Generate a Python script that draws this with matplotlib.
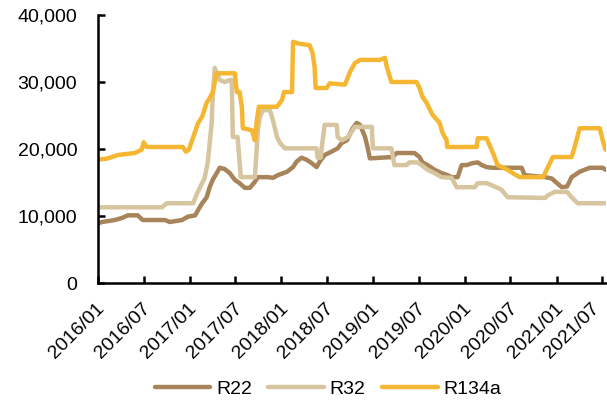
import matplotlib
matplotlib.use("Agg")
import matplotlib.pyplot as plt
import matplotlib.dates as mdates
import matplotlib.transforms as mtransforms
from matplotlib.ticker import FuncFormatter, MultipleLocator
import pandas as pd

plt.rcParams["font.family"] = ["Liberation Sans", "DejaVu Sans"]

# Weekly refrigerant prices (CNY/t), recorded at the dates where the trend changes
r22_dates = [
    "2016-01-01", "2016-01-17", "2016-03-08", "2016-04-05", "2016-04-29", "2016-06-07",
    "2016-06-27", "2016-09-24", "2016-10-13", "2016-12-01", "2016-12-24", "2017-01-22",
    "2017-02-03", "2017-02-19", "2017-03-09", "2017-03-21", "2017-04-02", "2017-04-18",
    "2017-04-30", "2017-05-20", "2017-06-09", "2017-06-29", "2017-07-18", "2017-08-08",
    "2017-08-28", "2017-09-17", "2017-09-29", "2017-11-08", "2017-11-28", "2017-12-18",
    "2018-01-23", "2018-02-16", "2018-03-02", "2018-03-22", "2018-04-11", "2018-05-01",
    "2018-05-21", "2018-06-02", "2018-06-22", "2018-07-19", "2018-08-13", "2018-08-29",
    "2018-09-19", "2018-10-12", "2018-10-28", "2018-11-10", "2018-11-30", "2018-12-11",
    "2018-12-19", "2019-03-19", "2019-04-05", "2019-06-15", "2019-07-05", "2019-07-17",
    "2019-08-06", "2019-09-03", "2019-10-01", "2019-10-25", "2019-11-10", "2019-12-04",
    "2019-12-20", "2020-01-09", "2020-02-02", "2020-02-22", "2020-03-09", "2020-03-28",
    "2020-04-21", "2020-08-15", "2020-08-27", "2020-11-16", "2020-12-13", "2021-01-03",
    "2021-01-22", "2021-02-12", "2021-03-02", "2021-04-03", "2021-05-13", "2021-07-04",
    "2021-07-15",
]
r22_values = [
    8900, 9100, 9400, 9700, 10100, 10100,
    9400, 9400, 9100, 9400, 9900, 10100,
    10900, 11900, 12800, 14300, 15400, 16400,
    17200, 17000, 16400, 15400, 14900, 14200,
    14200, 15100, 15800, 15800, 15700, 16100,
    16600, 17300, 18100, 18700, 18400, 17900,
    17300, 18100, 19100, 19600, 20100, 20900,
    21300, 23100, 23900, 23600, 21800, 20100,
    18600, 18800, 19400, 19400, 18800, 18000,
    17600, 16900, 16400, 16100, 15800, 15800,
    17600, 17600, 17900, 18000, 17600, 17300,
    17200, 17200, 16100, 15800, 15600, 14900,
    14300, 14400, 15800, 16600, 17200, 17200,
    16900,
]

r32_dates = [
    "2016-01-01", "2016-09-12", "2016-10-01", "2017-01-14", "2017-01-30", "2017-02-11",
    "2017-03-01", "2017-03-13", "2017-03-21", "2017-03-29", "2017-04-02", "2017-04-10",
    "2017-04-30", "2017-05-20", "2017-06-09", "2017-06-17", "2017-06-21", "2017-07-10",
    "2017-07-23", "2017-09-17", "2017-09-29", "2017-10-07", "2017-10-19", "2017-11-16",
    "2017-11-28", "2017-12-14", "2017-12-26", "2018-01-15", "2018-05-21", "2018-05-25",
    "2018-06-06", "2018-06-10", "2018-06-22", "2018-08-09", "2018-08-13", "2018-08-29",
    "2018-09-23", "2018-10-12", "2018-10-20", "2018-12-27", "2018-12-31", "2019-03-15",
    "2019-03-27", "2019-05-14", "2019-05-26", "2019-06-27", "2019-07-13", "2019-08-06",
    "2019-09-03", "2019-10-01", "2019-11-10", "2019-11-30", "2020-02-10", "2020-02-22",
    "2020-03-28", "2020-04-17", "2020-05-11", "2020-05-27", "2020-06-20", "2020-11-16",
    "2020-11-28", "2020-12-25", "2021-02-12", "2021-03-02", "2021-03-26", "2021-07-15",
]
r32_values = [
    11300, 11300, 11900, 11900, 13400, 14300,
    15700, 17900, 20900, 23900, 27800, 32100,
    30300, 30000, 30300, 30300, 21800, 21800,
    15800, 15800, 22800, 24800, 25800, 25800,
    24300, 21800, 20900, 20100, 20100, 18700,
    18700, 20100, 23600, 23600, 21800, 21300,
    21800, 22800, 23300, 23300, 20100, 20100,
    17600, 17600, 18000, 18000, 17600, 16900,
    16400, 15800, 15700, 14300, 14300, 14900,
    14900, 14600, 14200, 13900, 12800, 12700,
    13100, 13600, 13600, 12800, 11900, 11900,
]

r134a_dates = [
    "2016-01-01", "2016-02-10", "2016-03-19", "2016-05-26", "2016-06-23", "2016-07-01",
    "2016-07-13", "2016-12-04", "2016-12-16", "2016-12-28", "2017-01-10", "2017-02-03",
    "2017-02-19", "2017-03-09", "2017-03-21", "2017-04-02", "2017-04-18", "2017-06-29",
    "2017-07-07", "2017-07-18", "2017-07-27", "2017-07-31", "2017-09-05", "2017-09-17",
    "2017-09-25", "2017-10-03", "2017-12-14", "2018-01-03", "2018-01-11", "2018-02-12",
    "2018-02-16", "2018-03-14", "2018-04-23", "2018-05-05", "2018-05-13", "2018-05-17",
    "2018-06-30", "2018-07-12", "2018-09-11", "2018-10-01", "2018-10-20", "2018-11-10",
    "2019-01-28", "2019-02-17", "2019-02-25", "2019-03-15", "2019-06-23", "2019-07-05",
    "2019-07-17", "2019-08-02", "2019-08-26", "2019-09-23", "2019-10-05", "2019-10-21",
    "2019-10-23", "2020-02-18", "2020-02-22", "2020-03-28", "2020-04-17", "2020-04-29",
    "2020-05-11", "2020-06-20", "2020-07-10", "2020-08-07", "2020-11-08", "2020-11-28",
    "2020-12-17", "2021-03-02", "2021-03-14", "2021-04-03", "2021-06-22", "2021-07-04",
    "2021-07-15",
]
r134a_values = [
    18400, 18600, 19100, 19400, 19900, 21000,
    20300, 20300, 19600, 19900, 21300, 23900,
    24800, 26900, 27600, 28500, 31300, 31300,
    28500, 28500, 26300, 23100, 22800, 21300,
    24300, 26300, 26300, 27300, 28500, 28500,
    36000, 35700, 35500, 34300, 32200, 29100,
    29100, 29800, 29600, 31500, 32800, 33300,
    33300, 33600, 32200, 30000, 30000, 29100,
    27800, 26900, 25100, 23900, 22400, 21300,
    20300, 20300, 21600, 21600, 19900, 18800,
    17600, 16900, 16400, 15800, 15800, 17300,
    18800, 18800, 20300, 23100, 23100, 21300,
    19900,
]

series_names = ["R22", "R32", "R134a"]
series_colors = ["#A8845A", "#D6C59E", "#F5B731"]

fig = plt.figure(figsize=(6.07, 4.07), dpi=100)
ax = fig.add_axes([98 / 607, 124 / 407, 508 / 607, 268 / 407])

for name, dates, values, color in zip(
    series_names,
    [r22_dates, r32_dates, r134a_dates],
    [r22_values, r32_values, r134a_values],
    series_colors,
):
    ax.plot(pd.to_datetime(dates), values, color=color, lw=3.2,
            solid_joinstyle="round", solid_capstyle="round", label=name)

ax.set_ylim(0, 40000)
ax.yaxis.set_major_locator(MultipleLocator(10000))
ax.yaxis.set_major_formatter(FuncFormatter(lambda v, _: f"{v:,.0f}"))

ax.set_xlim(pd.Timestamp("2016-01-01"), pd.Timestamp("2021-07-17"))
ax.xaxis.set_major_locator(mdates.MonthLocator(bymonth=[1, 7]))
ax.xaxis.set_major_formatter(mdates.DateFormatter("%Y/%m"))

for side in ["top", "right"]:
    ax.spines[side].set_visible(False)
for side in ["left", "bottom"]:
    ax.spines[side].set_linewidth(1.8)
    ax.spines[side].set_color("black")

ax.tick_params(axis="both", direction="in", length=5, width=1.8,
               labelsize=14, colors="black")
ax.tick_params(axis="y", pad=15)
ax.tick_params(axis="x", pad=12)

# slanted date labels; the last one is pulled in so it stays inside the figure
xlabels = ax.get_xticklabels()
for i, lbl in enumerate(xlabels):
    dx = -11 if i == len(xlabels) - 1 else -2
    lbl.set_rotation(45)
    lbl.set_ha("right")
    lbl.set_va("top")
    lbl.set_rotation_mode("anchor")
    lbl.set_transform(lbl.get_transform() +
                      mtransforms.ScaledTranslation(dx / 100, 0, fig.dpi_scale_trans))

fig.legend(loc="center", bbox_to_anchor=(328 / 607, 1 - 389 / 407),
           ncol=3, frameon=False, fontsize=14, handlelength=2.85,
           handletextpad=0.3, columnspacing=0.85, borderaxespad=0,
           borderpad=0)

fig.savefig("out.png", dpi=100)
